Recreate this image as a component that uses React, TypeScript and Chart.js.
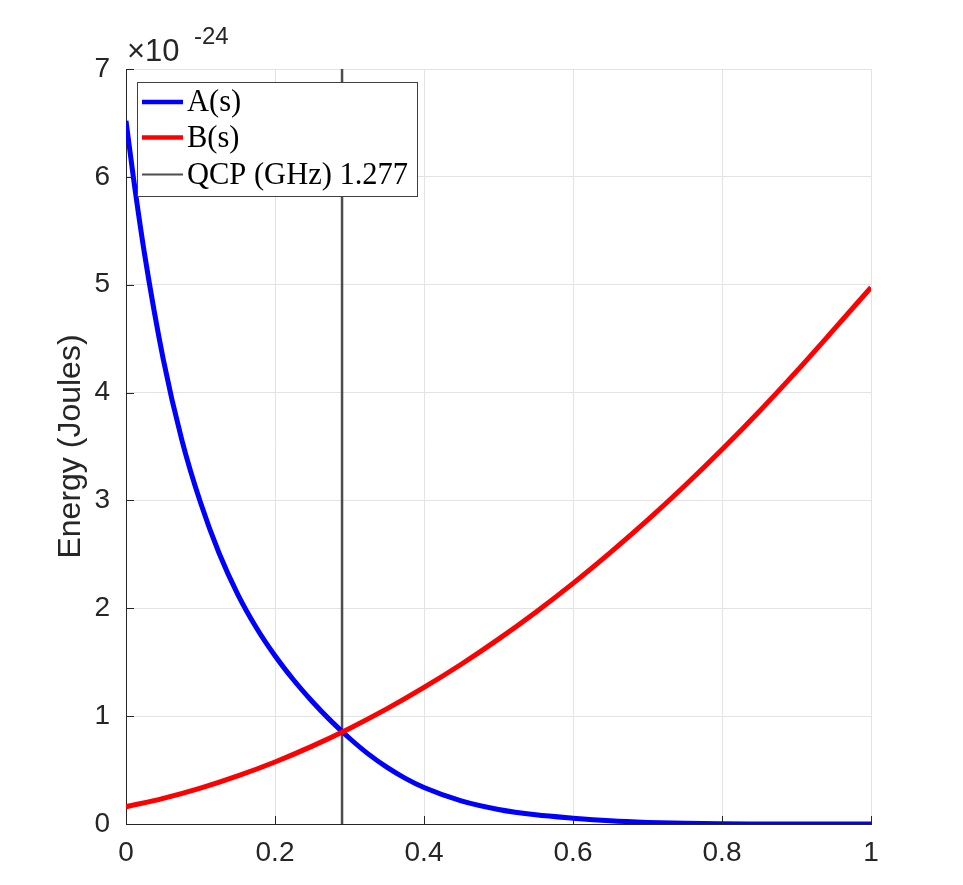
import React, { useEffect, useRef } from "react";
import { Chart, registerables } from "chart.js";

Chart.register(...registerables);

// Anneal fraction s for A(s)
const sA = [0, 0.01, 0.025, 0.05, 0.075, 0.1, 0.125, 0.15, 0.175, 0.2, 0.225, 0.25, 0.275, 0.3, 0.325, 0.35, 0.375, 0.4, 0.45, 0.5, 0.55, 0.6, 0.65, 0.7, 0.75, 0.8, 0.85, 0.9, 1.0];
// A(s) in units of 1e-24 J
const aValues = [6.52, 5.99, 5.28, 4.31, 3.56, 2.98, 2.51, 2.13, 1.82, 1.56, 1.335, 1.136, 0.956, 0.795, 0.65, 0.527, 0.423, 0.338, 0.214, 0.135, 0.085, 0.054, 0.03, 0.015, 0.006, 0.002, 0.0005, 0, 0];
// Anneal fraction s for B(s)
const sB = [0, 0.05, 0.1, 0.15, 0.2, 0.25, 0.3, 0.35, 0.4, 0.45, 0.5, 0.55, 0.6, 0.65, 0.7, 0.75, 0.8, 0.85, 0.9, 0.95, 1.0];
// B(s) in units of 1e-24 J
const bValues = [0.16, 0.238, 0.333, 0.446, 0.575, 0.722, 0.886, 1.067, 1.266, 1.481, 1.714, 1.964, 2.231, 2.516, 2.817, 3.136, 3.472, 3.825, 4.196, 4.583, 4.975];
// Quantum critical point
const qcpS = 0.29;
const qcpYRange = [0, 7];

const seriesLabels = ["A(s)", "B(s)", "QCP (GHz) 1.277"];
const seriesColors = ["#0000ff", "#ff0000", "#4d4d4d"];
const yTitle = "Energy (Joules)";
const exponentBase = "\u00d710";
const exponentPower = "-24";
const xRange = [0, 1];
const xStep = 0.2;
const yRange = [0, 7];
const yStep = 1;

const legendSampleWidths = [4.5, 4.5, 2];

const overlayPlugin = {
  id: "overlay",
  afterDraw(chart: any) {
    const { ctx, chartArea, scales } = chart;
    const xs = scales.x;
    const ys = scales.y;
    ctx.save();
    // inward tick marks
    ctx.strokeStyle = "#262626";
    ctx.lineWidth = 1;
    ctx.beginPath();
    xs.ticks.forEach((t: any) => {
      const px = Math.round(xs.getPixelForValue(t.value)) + 0.5;
      ctx.moveTo(px, chartArea.bottom);
      ctx.lineTo(px, chartArea.bottom - 8);
    });
    ys.ticks.forEach((t: any) => {
      const py = Math.round(ys.getPixelForValue(t.value)) + 0.5;
      ctx.moveTo(chartArea.left, py);
      ctx.lineTo(chartArea.left + 8, py);
    });
    ctx.stroke();

    // exponent label
    ctx.fillStyle = "#262626";
    ctx.textBaseline = "alphabetic";
    ctx.textAlign = "left";
    ctx.font = "31px 'Liberation Sans', Arial, sans-serif";
    ctx.fillText(exponentBase, chartArea.left + 1, chartArea.top - 8);
    ctx.font = "24px 'Liberation Sans', Arial, sans-serif";
    ctx.fillText(exponentPower, chartArea.left + 68, chartArea.top - 25);

    // legend box
    const lx = chartArea.left + 11;
    const ly = chartArea.top + 13;
    const lw = 280;
    const lh = 114;
    ctx.fillStyle = "#ffffff";
    ctx.fillRect(lx, ly, lw, lh);
    ctx.strokeStyle = "#404040";
    ctx.lineWidth = 1;
    ctx.strokeRect(lx + 0.5, ly + 0.5, lw, lh);
    const rows = [ly + 20, ly + 55.5, ly + 92.5];
    chart.data.datasets.forEach((ds: any, i: number) => {
      const cy = rows[i];
      ctx.strokeStyle = ds.borderColor;
      ctx.lineWidth = legendSampleWidths[i];
      ctx.beginPath();
      ctx.moveTo(lx + 5, cy);
      ctx.lineTo(lx + 46, cy);
      ctx.stroke();
      ctx.fillStyle = "#000000";
      ctx.font = "30.5px 'Liberation Serif', 'Times New Roman', serif";
      ctx.textBaseline = "middle";
      ctx.fillText(ds.label, lx + 50, cy + 1);
    });
    ctx.restore();
  },
};

export default function App() {
  const canvasRef = useRef<HTMLCanvasElement | null>(null);

  useEffect(() => {
    const canvas = canvasRef.current;
    if (!canvas) return;
    const tickFont = { family: "'Liberation Sans', Arial, sans-serif", size: 28 };
    const chart = new Chart(canvas, {
      type: "line",
      data: {
        datasets: [
          {
            label: seriesLabels[0],
            data: sA.map((s, i) => ({ x: s, y: aValues[i] })),
            borderColor: seriesColors[0],
            borderWidth: 5,
            pointRadius: 0,
            cubicInterpolationMode: "monotone",
            fill: false,
            order: 1,
          },
          {
            label: seriesLabels[1],
            data: sB.map((s, i) => ({ x: s, y: bValues[i] })),
            borderColor: seriesColors[1],
            borderWidth: 5,
            pointRadius: 0,
            cubicInterpolationMode: "monotone",
            fill: false,
            order: 0,
          },
          {
            label: seriesLabels[2],
            data: qcpYRange.map((v) => ({ x: qcpS, y: v })),
            borderColor: seriesColors[2],
            borderWidth: 2.5,
            pointRadius: 0,
            fill: false,
            order: 2,
          },
        ],
      },
      options: {
        responsive: false,
        animation: false,
        layout: { padding: { top: 69, right: 92, bottom: 0, left: 0 } },
        plugins: { legend: { display: false }, tooltip: { enabled: false } },
        scales: {
          x: {
            type: "linear",
            min: xRange[0],
            max: xRange[1],
            ticks: {
              stepSize: xStep,
              font: tickFont,
              color: "#262626",
              padding: 12,
              maxRotation: 0,
              callback: (v: any) => String(Number(Number(v).toFixed(1))),
            },
            grid: { color: "#e3e3e3", lineWidth: 1, drawTicks: false },
            border: { display: true, color: "#262626", width: 1 },
            afterFit: (scale: any) => {
              scale.height = 61;
            },
          },
          y: {
            type: "linear",
            min: yRange[0],
            max: yRange[1],
            ticks: { stepSize: yStep, font: tickFont, color: "#262626", padding: 16 },
            grid: { color: "#e3e3e3", lineWidth: 1, drawTicks: false },
            border: { display: true, color: "#262626", width: 1 },
            title: {
              display: true,
              text: yTitle,
              color: "#262626",
              font: { family: "'Liberation Sans', Arial, sans-serif", size: 32 },
              padding: { top: 52, bottom: 0 },
            },
            afterFit: (scale: any) => {
              scale.width = 126;
            },
          },
        },
      },
      plugins: [overlayPlugin],
    } as any);
    return () => chart.destroy();
  }, []);

  return (
    <div style={{ position: "absolute", left: 0, top: 0, width: 963, height: 885, background: "#ffffff" }}>
      <canvas ref={canvasRef} width={963} height={885} style={{ width: 963, height: 885, display: "block" }} />
    </div>
  );
}
